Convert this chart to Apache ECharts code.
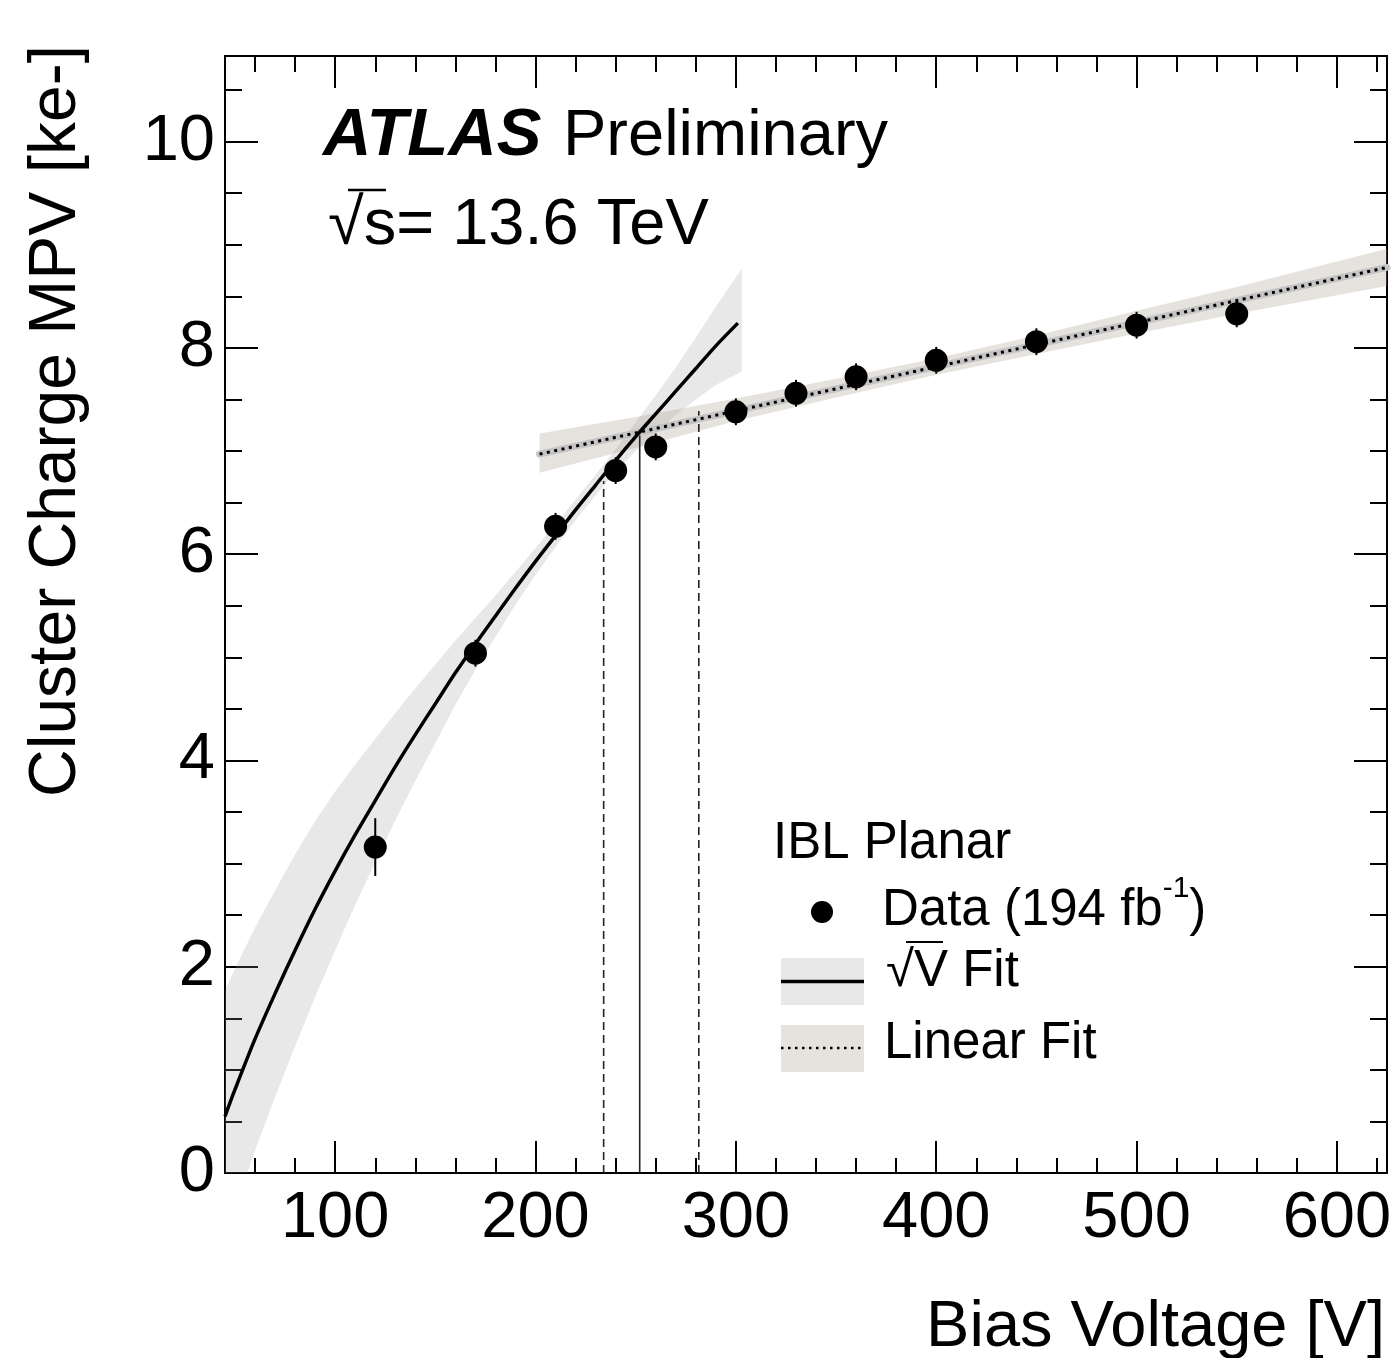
<!DOCTYPE html>
<html>
<head>
<meta charset="utf-8">
<script src="https://cdn.jsdelivr.net/npm/echarts@6/dist/echarts.min.js"></script>
<style>
  html, body { margin: 0; padding: 0; background: #fff; }
  #chart { width: 1400px; height: 1358px; }
</style>
</head>
<body>
<div id="chart"></div>
<script>
// Cluster charge MPV vs. bias voltage, IBL planar sensors

// Measured points
const voltage   = [120, 170, 210, 240, 260, 300, 330, 360, 400, 450, 500, 550];
const chargeMPV = [3.16, 5.04, 6.27, 6.81, 7.04, 7.38, 7.56, 7.72, 7.88, 8.06, 8.22, 8.33];
const chargeErr = [0.28, 0.13, 0.13, 0.13, 0.13, 0.13, 0.13, 0.13, 0.13, 0.13, 0.13, 0.13];

// sqrt(V) fit curve
const sqrtFitV = [45, 50, 60, 70, 80, 90, 100, 110, 120, 130, 140, 150, 160, 170, 180, 190, 200, 210, 220, 230, 240, 250, 260, 270, 280, 290, 301];
const sqrtFitQ = [0.55, 0.81, 1.30, 1.74, 2.16, 2.56, 2.93, 3.28, 3.61, 3.94, 4.25, 4.55, 4.85, 5.13, 5.40, 5.67, 5.93, 6.18, 6.43, 6.67, 6.91, 7.14, 7.36, 7.58, 7.80, 8.02, 8.24];

// sqrt(V) fit uncertainty band
const sqrtBandV  = [45, 50, 60, 70, 80, 90, 100, 110, 120, 130, 140, 150, 160, 170, 180, 190, 200, 210, 220, 230, 240, 250, 260, 270, 280, 290, 303];
const sqrtBandUp = [1.77, 1.98, 2.38, 2.74, 3.09, 3.41, 3.70, 3.96, 4.21, 4.46, 4.70, 4.93, 5.16, 5.38, 5.60, 5.83, 6.06, 6.29, 6.53, 6.77, 7.02, 7.28, 7.54, 7.81, 8.10, 8.40, 8.77];
const sqrtBandLo = [-0.67, -0.36, 0.22, 0.74, 1.23, 1.71, 2.16, 2.60, 3.01, 3.42, 3.80, 4.17, 4.54, 4.88, 5.20, 5.51, 5.80, 6.07, 6.33, 6.57, 6.80, 7.00, 7.18, 7.35, 7.50, 7.64, 7.77];

// Linear fit and its band
const linFitV = [202, 625];
const linFitQ = [6.97, 8.78];
const linBandV  = [202, 250, 300, 350, 400, 450, 500, 550, 625];
const linBandUp = [7.17, 7.33, 7.51, 7.70, 7.90, 8.12, 8.36, 8.59, 8.96];
const linBandLo = [6.79, 7.03, 7.29, 7.52, 7.74, 7.94, 8.14, 8.33, 8.60];

// Full-depletion voltage (crossing of the fits) and its uncertainty
const depletionV = [252, 7.19];
const depletionLowV = [234, 6.71];
const depletionHighV = [281.5, 7.40];

// Axis ticks
const xMajorTicks = [100, 200, 300, 400, 500, 600];
const xMinorTicks = [60, 80, 120, 140, 160, 180, 220, 240, 260, 280, 320, 340, 360, 380, 420, 440, 460, 480, 520, 540, 560, 580, 620];
const yMajorTicks = [0, 2, 4, 6, 8, 10];
const yMinorTicks = [0.5, 1, 1.5, 2.5, 3, 3.5, 4.5, 5, 5.5, 6.5, 7, 7.5, 8.5, 9, 9.5, 10.5];

const X_MIN = 45, X_MAX = 625, Y_MIN = 0, Y_MAX = 10.83;
const FONT = '"Liberation Sans", Arial, Helvetica, sans-serif';

const chart = echarts.init(document.getElementById('chart'), null, { renderer: 'canvas' });

function xAxisDef(position, ticks, len, withLine, withLabels) {
  return {
    type: 'value', position, min: X_MIN, max: X_MAX,
    axisLine: { show: withLine, onZero: false, lineStyle: { color: '#000', width: 2 } },
    axisTick: { show: true, inside: true, length: len, customValues: ticks, lineStyle: { color: '#000', width: 2 } },
    axisLabel: withLabels ? { show: true, customValues: ticks, fontSize: 65, color: '#000', fontFamily: FONT, margin: 14 } : { show: false },
    splitLine: { show: false }
  };
}
function yAxisDef(position, ticks, len, withLine, withLabels) {
  return {
    type: 'value', position, min: Y_MIN, max: Y_MAX,
    axisLine: { show: withLine, onZero: false, lineStyle: { color: '#000', width: 2 } },
    axisTick: { show: true, inside: true, length: len, customValues: ticks, lineStyle: { color: '#000', width: 2 } },
    axisLabel: withLabels ? { show: true, customValues: ticks, fontSize: 65, color: '#000', fontFamily: FONT, margin: 10 } : { show: false },
    splitLine: { show: false }
  };
}

function bandSeries(name, xs, up, lo, fill) {
  return {
    type: 'custom', name, silent: true, z: 1,
    data: [[xs[0], up[0]]],
    renderItem(params, api) {
      const pts = [];
      for (let i = 0; i < xs.length; i++) pts.push(api.coord([xs[i], up[i]]));
      for (let i = xs.length - 1; i >= 0; i--) pts.push(api.coord([xs[i], lo[i]]));
      const cs = params.coordSys;
      return {
        type: 'polygon', shape: { points: pts }, style: { fill },
        clipPath: { type: 'rect', shape: { x: cs.x, y: cs.y, width: cs.width, height: cs.height } }
      };
    }
  };
}

function vLine(pair, dashed) {
  return {
    type: 'line', silent: true, z: 3, showSymbol: false,
    data: [[pair[0], 0], [pair[0], pair[1]]],
    lineStyle: { color: '#222', width: 1.6, type: dashed ? [8, 5] : 'solid' }
  };
}

const SQRT_BAND = 'rgba(150,150,150,0.22)';
const LIN_BAND = 'rgba(172,162,145,0.30)';

const option = {
  animation: false,
  backgroundColor: '#fff',
  grid: { left: 225, right: 13, top: 56, bottom: 185, containLabel: false },
  xAxis: [
    xAxisDef('bottom', xMajorTicks, 32, true, true),
    xAxisDef('bottom', xMinorTicks, 15, false, false),
    xAxisDef('top', xMajorTicks, 32, true, false),
    xAxisDef('top', xMinorTicks, 16, false, false)
  ],
  yAxis: [
    yAxisDef('left', yMajorTicks, 33, true, true),
    yAxisDef('left', yMinorTicks, 17, false, false),
    yAxisDef('right', yMajorTicks, 33, true, false),
    yAxisDef('right', yMinorTicks, 17, false, false)
  ],
  series: [
    bandSeries('sqrt band', sqrtBandV, sqrtBandUp, sqrtBandLo, SQRT_BAND),
    bandSeries('linear band', linBandV, linBandUp, linBandLo, LIN_BAND),
    vLine(depletionV, false),
    vLine(depletionLowV, true),
    vLine(depletionHighV, true),
    {
      type: 'line', name: 'Linear Fit base', silent: true, z: 4, showSymbol: false,
      data: linFitV.map((v, i) => [v, linFitQ[i]]),
      lineStyle: { color: '#c4c4c4', width: 7, cap: 'round' }
    },
    {
      type: 'line', name: 'Linear Fit', silent: true, z: 5, showSymbol: false,
      data: linFitV.map((v, i) => [v, linFitQ[i]]),
      lineStyle: { color: '#000', width: 3, type: [3, 4.5] }
    },
    {
      type: 'line', name: 'sqrt Fit', silent: true, z: 6, showSymbol: false, smooth: 0.3,
      data: sqrtFitV.map((v, i) => [v, sqrtFitQ[i]]),
      lineStyle: { color: '#000', width: 3.5 }
    },
    {
      type: 'custom', name: 'errors', silent: true, z: 7,
      data: voltage.map((v, i) => [v, chargeMPV[i] - chargeErr[i], chargeMPV[i] + chargeErr[i]]),
      encode: { x: 0, y: [1, 2] },
      renderItem(params, api) {
        const x = api.value(0);
        const a = api.coord([x, api.value(1)]);
        const b = api.coord([x, api.value(2)]);
        return { type: 'line', shape: { x1: a[0], y1: a[1], x2: b[0], y2: b[1] }, style: { stroke: '#000', lineWidth: 2 } };
      }
    },
    {
      type: 'scatter', name: 'Data', silent: true, z: 8,
      data: voltage.map((v, i) => [v, chargeMPV[i]]),
      symbol: 'circle', symbolSize: 23,
      itemStyle: { color: '#000', opacity: 1 }
    }
  ],
  graphic: [
    // axis titles
    { type: 'text', x: 1385, y: 1328, style: { text: 'Bias Voltage [V]', fontSize: 65, fontFamily: FONT, fill: '#000', align: 'right', verticalAlign: 'middle' } },
    { type: 'text', x: 57, y: 45, rotation: Math.PI / 2, style: { text: 'Cluster Charge MPV [ke-]', fontSize: 66, fontFamily: FONT, fill: '#000', align: 'right', verticalAlign: 'middle' } },
    // experiment label
    { type: 'text', x: 323, y: 137, style: { text: 'ATLAS', fontSize: 67, fontWeight: 'bold', fontStyle: 'italic', fontFamily: FONT, fill: '#000', align: 'left', verticalAlign: 'middle' } },
    { type: 'text', x: 563, y: 137, style: { text: 'Preliminary', fontSize: 65, fontFamily: FONT, fill: '#000', align: 'left', verticalAlign: 'middle' } },
    { type: 'text', x: 328, y: 226, style: { text: '\u221As= 13.6 TeV', fontSize: 65, fontFamily: FONT, fill: '#000', align: 'left', verticalAlign: 'middle' } },
    { type: 'line', shape: { x1: 348, y1: 190, x2: 386, y2: 190 }, style: { stroke: '#000', lineWidth: 2.5 } },
    // legend
    { type: 'text', x: 773, y: 844, style: { text: 'IBL Planar', fontSize: 51, fontFamily: FONT, fill: '#000', align: 'left', verticalAlign: 'middle' } },
    { type: 'circle', shape: { cx: 822, cy: 912, r: 11 }, style: { fill: '#000' } },
    { type: 'text', x: 882, y: 911, style: {
        text: '{a|Data (194 fb}{b|-1}{a|)}', fontSize: 51, fontFamily: FONT, fill: '#000', align: 'left', verticalAlign: 'middle',
        rich: { a: { fontSize: 51, fontFamily: FONT, fill: '#000' }, b: { fontSize: 30, fontFamily: FONT, fill: '#000', padding: [0, 0, 44, 0] } }
    } },
    { type: 'rect', shape: { x: 781, y: 958, width: 83, height: 47 }, style: { fill: SQRT_BAND } },
    { type: 'line', shape: { x1: 781, y1: 981.5, x2: 864, y2: 981.5 }, style: { stroke: '#000', lineWidth: 3.5 } },
    { type: 'text', x: 886, y: 972, style: { text: '\u221AV Fit', fontSize: 51, fontFamily: FONT, fill: '#000', align: 'left', verticalAlign: 'middle' } },
    { type: 'line', shape: { x1: 906, y1: 942, x2: 943, y2: 942 }, style: { stroke: '#000', lineWidth: 2.2 } },
    { type: 'rect', shape: { x: 781, y: 1025, width: 83, height: 47 }, style: { fill: LIN_BAND } },
    { type: 'line', shape: { x1: 781, y1: 1048, x2: 864, y2: 1048 }, style: { stroke: '#000', lineWidth: 2.5, lineDash: [2.5, 4.5] } },
    { type: 'text', x: 884, y: 1044, style: { text: 'Linear Fit', fontSize: 51, fontFamily: FONT, fill: '#000', align: 'left', verticalAlign: 'middle' } }
  ]
};

chart.setOption(option);
</script>
</body>
</html>
